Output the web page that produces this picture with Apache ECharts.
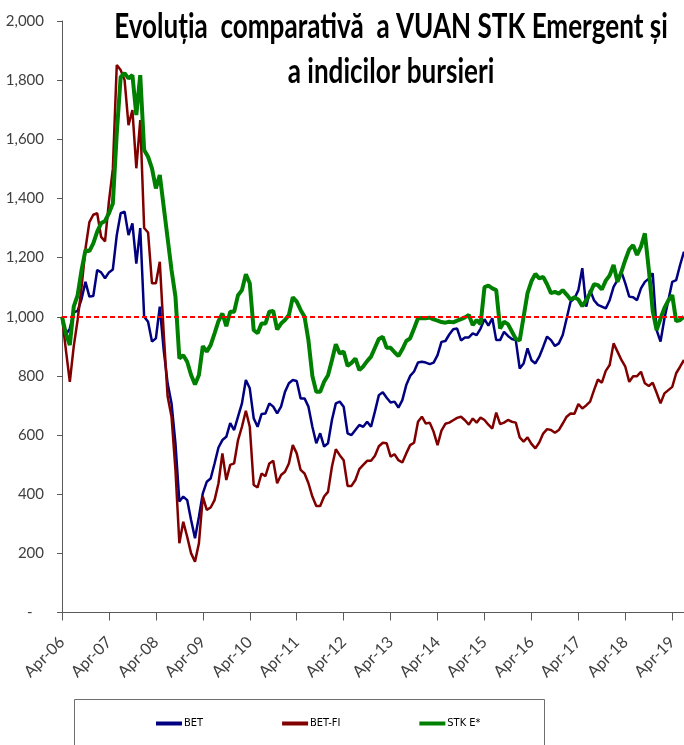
<!DOCTYPE html>
<html>
<head>
<meta charset="utf-8">
<script src="https://cdn.jsdelivr.net/npm/echarts@6/dist/echarts.min.js"></script>
<style>
  html, body { margin: 0; padding: 0; background: #fff; }
  #chart { width: 684px; height: 745px; }
</style>
</head>
<body>
<div id="chart"></div>
<script>
// monthly points, Apr-06 .. Jul-19 (index 0 = Apr-06)
const monthNames = ["Jan", "Feb", "Mar", "Apr", "May", "Jun", "Jul", "Aug", "Sep", "Oct", "Nov", "Dec"];
const months = [];
for (let y = 2006; y <= 2019; y++) {
  for (let m = 0; m < 12; m++) {
    if (y === 2006 && m < 3) continue;
    if (y === 2019 && m > 6) continue;
    months.push(monthNames[m] + "-" + String(y).slice(2));
  }
}

const seriesNames = ["BET", "BET-FI", "STK E*"];
const baseLevel = 1000;

const bet = [
  1000, 940, 960, 1015, 1020, 1060, 1118, 1068, 1070, 1158, 1150, 1130,
  1150, 1160, 1276, 1350, 1355, 1276, 1316, 1180, 1300, 1000, 983, 916,
  927, 1034, 887, 775, 707, 572, 375, 392, 380, 313, 251, 324,
  403, 442, 453, 504, 558, 583, 594, 640, 617, 662, 707, 786,
  758, 657, 628, 671, 673, 707, 696, 673, 696, 746, 775, 786,
  783, 724, 724, 696, 628, 572, 606, 561, 572, 651, 707, 713,
  696, 606, 600, 617, 634, 628, 645, 628, 680, 735, 745, 726,
  710, 713, 693, 718, 769, 800, 815, 845, 848, 845, 840, 845,
  870, 915, 918, 940, 958, 960, 920, 930, 930, 944, 938, 960,
  992, 970, 995, 921, 921, 949, 935, 925, 921, 825, 842, 893,
  853, 842, 865, 898, 933, 921, 901, 910, 938, 994, 1051, 1062,
  1090, 1164, 1034, 1090, 1056, 1040, 1034, 1028, 1056, 1101, 1124, 1152,
  1113, 1068, 1066, 1056, 1096, 1118, 1129, 1147, 955, 916, 994, 1056,
  1118, 1124, 1175, 1220
];

const betFi = [
  1000, 887, 780, 900, 990, 1100, 1230, 1320, 1345, 1350, 1270, 1255,
  1390, 1500, 1851, 1834, 1800, 1648, 1699, 1502, 1665, 1300, 1285, 1113,
  1113, 1186, 944, 730, 662, 482, 234, 307, 256, 200, 172, 234,
  392, 347, 355, 380, 437, 538, 448, 499, 504, 583, 628, 682,
  628, 431, 423, 470, 461, 504, 513, 437, 465, 476, 504, 566,
  538, 482, 470, 437, 392, 360, 360, 392, 408, 493, 552, 532,
  515, 428, 428, 448, 485, 499, 513, 513, 530, 562, 574, 572,
  527, 535, 515, 507, 538, 566, 574, 645, 662, 639, 642, 611,
  566, 615, 638, 642, 650, 658, 662, 650, 635, 656, 642, 659,
  651, 635, 622, 676, 637, 642, 651, 645, 642, 592, 578, 592,
  570, 555, 575, 605, 620, 617, 608, 617, 639, 662, 673, 672,
  705, 690, 700, 713, 752, 788, 777, 817, 837, 910, 882, 854,
  831, 780, 799, 799, 814, 775, 766, 777, 743, 707, 741, 752,
  763, 809, 831, 854
];

const stkE = [
  1000, 943, 904, 1034, 1073, 1158, 1225, 1222, 1248, 1288, 1316, 1324,
  1350, 1383, 1620, 1811, 1823, 1806, 1817, 1682, 1817, 1564, 1541, 1502,
  1434, 1479, 1372, 1265, 1158, 1068, 859, 870, 848, 803, 771, 803,
  901, 882, 904, 944, 985, 1011, 968, 1017, 1017, 1073, 1090, 1144,
  1113, 955, 944, 977, 977, 1017, 1020, 957, 977, 989, 1006, 1066,
  1051, 1023, 1000, 920, 800, 746, 746, 780, 802, 853, 907, 876,
  882, 834, 844, 859, 820, 832, 850, 865, 895, 925, 932, 895,
  895, 880, 867, 890, 918, 927, 960, 995, 996, 995, 997, 991,
  987, 982, 980, 983, 981, 987, 992, 998, 1006, 972, 989, 975,
  1100, 1105, 1096, 1090, 960, 983, 975, 950, 925, 920, 1000, 1080,
  1120, 1145, 1130, 1135, 1110, 1080, 1084, 1078, 1090, 1075, 1058, 1066,
  1058, 1036, 1056, 1080, 1110, 1107, 1092, 1122, 1140, 1175, 1118, 1152,
  1192, 1228, 1242, 1209, 1237, 1282, 1160, 1020, 955, 994, 1030, 1055,
  1073, 985, 989, 1000
];

const colors = ["#000080", "#800000", "#008000"];
const labelFont = "Lato, 'Open Sans', sans-serif";
const aprilOnly = (index) => index % 12 === 0;

const chart = echarts.init(document.getElementById("chart"), null, { renderer: "canvas" });

const option = {
  animation: false,
  backgroundColor: "#ffffff",
  graphic: [
    {
      type: "text",
      x: 391,
      y: 4,
      scaleX: 0.745,
      style: {
        text: "Evoluția  comparativă  a VUAN STK Emergent și\na indicilor bursieri",
        font: "bold 35px Lato, 'Noto Sans', sans-serif",
        fill: "#000000",
        align: "center",
        textAlign: "center",
        verticalAlign: "top",
        lineHeight: 45,
      },
      z: 100,
    },
    {
      type: "rect",
      shape: { x: 74.5, y: 699.5, width: 470, height: 60 },
      style: { fill: "none", stroke: "#6e6e6e", lineWidth: 1 },
    },
  ],
  legend: {
    left: 156,
    top: 718,
    padding: 0,
    itemGap: 79,
    itemWidth: 26,
    itemHeight: 4,
    icon: "rect",
    textStyle: {
      fontFamily: "'Liberation Sans Narrow', 'DejaVu Sans Condensed', sans-serif",
      fontSize: 11,
      color: "#000000",
      padding: [0, 0, 0, -3],
    },
    data: seriesNames,
  },
  grid: {
    left: 62,
    right: 0,
    top: 21,
    bottom: 132.5,
    containLabel: false,
    outerBoundsMode: "none",
  },
  xAxis: {
    type: "category",
    data: months,
    boundaryGap: false,
    axisLine: { lineStyle: { color: "#5a5a5a", width: 1 } },
    axisTick: { interval: aprilOnly, length: 8, lineStyle: { color: "#5a5a5a" } },
    axisLabel: {
      interval: aprilOnly,
      rotate: 45,
      margin: 27,
      fontFamily: labelFont,
      fontSize: 16,
      color: "#404040",
    },
    splitLine: { show: false },
  },
  yAxis: {
    type: "value",
    min: 0,
    max: 2000,
    interval: 200,
    axisLine: { show: true, lineStyle: { color: "#5a5a5a", width: 1 } },
    axisTick: { show: true, length: 5, lineStyle: { color: "#5a5a5a" } },
    axisLabel: {
      margin: 18,
      fontFamily: labelFont,
      fontSize: 15,
      color: "#404040",
      formatter: (v) => (v === 0 ? "-   " : v.toLocaleString("en-US")),
    },
    splitLine: { show: false },
  },
  series: [
    {
      name: seriesNames[0],
      type: "line",
      data: bet,
      showSymbol: false,
      color: colors[0],
      lineStyle: { width: 2.5 },
    },
    {
      name: seriesNames[1],
      type: "line",
      data: betFi,
      showSymbol: false,
      color: colors[1],
      lineStyle: { width: 2.5 },
    },
    {
      name: seriesNames[2],
      type: "line",
      data: stkE,
      showSymbol: false,
      color: colors[2],
      lineStyle: { width: 4 },
      markLine: {
        silent: true,
        symbol: "none",
        label: { show: false },
        lineStyle: { color: "#ff0000", type: [5, 3], width: 2 },
        data: [{ yAxis: baseLevel }],
      },
    },
  ],
};

chart.setOption(option);
</script>
</body>
</html>
